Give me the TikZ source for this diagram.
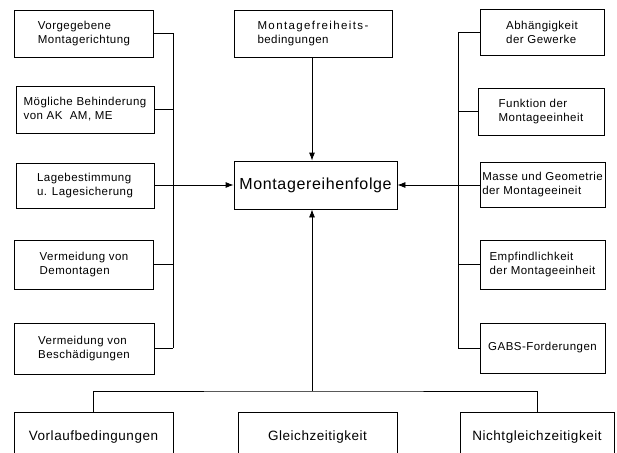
\documentclass[tikz,border=0pt]{standalone}
\usepackage{fontspec}
\usetikzlibrary{arrows.meta}
\setmainfont{Liberation Sans}[LetterSpace=4]
\begin{document}
\begin{tikzpicture}[x=1pt,y=-1pt,
  line width=0.8pt,
  kasten/.style={draw, inner sep=0pt, align=left, font=\fontsize{11.5}{14}\selectfont},
  haupt/.style={draw, inner sep=0pt, font=\fontsize{16}{19}\selectfont},
  unten/.style={draw, inner sep=0pt, minimum height=50pt, font=\fontsize{13.5}{16}\selectfont},
  pfeil/.style={-{Latex[length=8pt,width=6pt]}}]
\path[use as bounding box, clip] (0,0) rectangle (617,452);
% links
\node[kasten, minimum width=139pt, minimum height=47pt] (l1) at (84,33.5) {Vorgegebene\\Montagerichtung};
\node[kasten, minimum width=138pt, minimum height=47pt] (l2) at (85,109.5) {M\"ogliche Behinderung\\von AK\ \ AM, ME};
\node[kasten, minimum width=138pt, minimum height=45pt] (l3) at (85,185.5) {Lagebestimmung\\u. Lagesicherung};
\node[kasten, minimum width=139pt, minimum height=49pt] (l4) at (84,264.5) {Vermeidung von\\Demontagen};
\node[kasten, minimum width=140pt, minimum height=51pt] (l5) at (84,348.5) {Vermeidung von\\Besch\"adigungen};
% mitte
\node[haupt, minimum width=163pt, minimum height=48pt] (main) at (315.5,185) {Montagereihenfolge};
\node[kasten, minimum width=158pt, minimum height=47pt] (top) at (313,33.5) {\addfontfeature{LetterSpace=12}Montagefreiheits-\\bedingungen};
% rechts
\node[kasten, minimum width=124pt, minimum height=46pt] (r1) at (542,32) {Abh\"angigkeit\\der Gewerke};
\node[kasten, minimum width=126pt, minimum height=47pt] (r2) at (541,111.5) {Funktion der\\Montageeinheit};
\node[kasten, minimum width=125pt, minimum height=45pt] (r3) at (542.5,184.5) {Masse und Geometrie\\der Montageeineit};
\node[kasten, minimum width=125pt, minimum height=49pt] (r4) at (542.5,264.5) {Empfindlichkeit\\der Montageeinheit};
\node[kasten, minimum width=125pt, minimum height=50pt] (r5) at (542.5,348) {GABS-Forderungen};
% unten
\node[unten, minimum width=159pt] (b1) at (93.5,437) {Vorlaufbedingungen};
\node[unten, minimum width=159pt] (b2) at (317.5,437) {Gleichzeitigkeit};
\node[unten, minimum width=154pt] (b3) at (537,437) {Nichtgleichzeitigkeit};
\coordinate (lb) at (173,348);
\coordinate (rb) at (458,348);
\coordinate (bj) at (312,391);
% verbindungen
\draw (l1.east) -| (lb);
\draw (l2.east) -- (l2.east -| lb);
\draw (l4.east) -- (l4.east -| lb);
\draw (l5.east) -- (l5.east -| lb);
\draw[pfeil] (l3.east |- main) -- (main.west);
\draw (r1.west) -| (rb);
\draw (r2.west) -- (r2.west -| rb);
\draw (r4.west) -- (r4.west -| rb);
\draw (r5.west) -- (r5.west -| rb);
\draw[pfeil] (r3.west |- main) -- (main.east);
\draw[pfeil] (top.south -| bj) -- (main.north -| bj);
\draw (b1.north) |- (bj) -| (b3.north);
\draw[pfeil] (bj) -- (main.south -| bj);
\end{tikzpicture}
\end{document}
